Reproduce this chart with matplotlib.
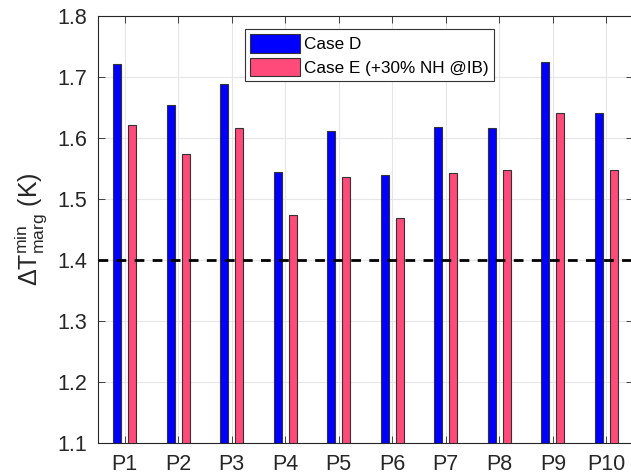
import matplotlib
matplotlib.use("Agg")
import matplotlib.pyplot as plt
import numpy as np

plt.rcParams['font.family'] = ['Liberation Sans', 'DejaVu Sans']
plt.rcParams['mathtext.fontset'] = 'custom'
plt.rcParams['mathtext.rm'] = 'Liberation Sans'
plt.rcParams['mathtext.it'] = 'Liberation Sans:italic'

# Minimum temperature margin per pancake, two cases
pancakes = ["P1", "P2", "P3", "P4", "P5", "P6", "P7", "P8", "P9", "P10"]
case_d = [1.721, 1.654, 1.688, 1.545, 1.611, 1.540, 1.618, 1.616, 1.725, 1.641]
case_e = [1.622, 1.574, 1.616, 1.473, 1.536, 1.468, 1.542, 1.548, 1.641, 1.547]
threshold = 1.4

fig = plt.figure(figsize=(6.31, 4.75), dpi=100)
ax = fig.add_axes([0.1553, 0.0674, 0.848, 0.899])

x = np.arange(1, len(pancakes) + 1)
w = 0.15
ax.bar(x - 0.14, case_d, w, color="#0000FF", edgecolor="#333333", linewidth=0.8,
       label="Case D", zorder=3)
ax.bar(x + 0.14, case_e, w, color="#FF4A7A", edgecolor="#333333", linewidth=0.8,
       label="Case E (+30% NH @IB)", zorder=3)
ax.axhline(threshold, color="black", linestyle=(0, (3.5, 3)), linewidth=2, zorder=4)

ax.set_xlim(0.5, 10.5)
ax.set_ylim(1.1, 1.8)
ax.set_xticks(x)
ax.set_xticklabels(pancakes)
ax.set_yticks(np.arange(1.1, 1.81, 0.1))
ax.yaxis.set_major_formatter(matplotlib.ticker.FormatStrFormatter('%.1f'))
ax.tick_params(direction="in", top=True, right=True, labelsize=15.5,
               colors="#262626", length=5, width=0.6, pad=8)
ax.grid(True, color="#e6e6e6", linewidth=0.8, zorder=0)
for s in ax.spines.values():
    s.set_color("#262626")
    s.set_linewidth(0.8)

ax.set_ylabel(r"$\Delta\mathrm{T}^{\mathrm{min}}_{\mathrm{marg}}$ (K)", fontsize=18,
              color="#262626", labelpad=6)

leg = ax.legend(loc="upper left", bbox_to_anchor=(0.275, 0.97), borderaxespad=0,
                fontsize=12.3, handlelength=2.9, handleheight=1.3,
                handletextpad=0.25, borderpad=0.3, labelspacing=0.3,
                fancybox=False, framealpha=1, edgecolor="#333333")
leg.get_frame().set_linewidth(0.8)

fig.savefig("out.png", dpi=100)
